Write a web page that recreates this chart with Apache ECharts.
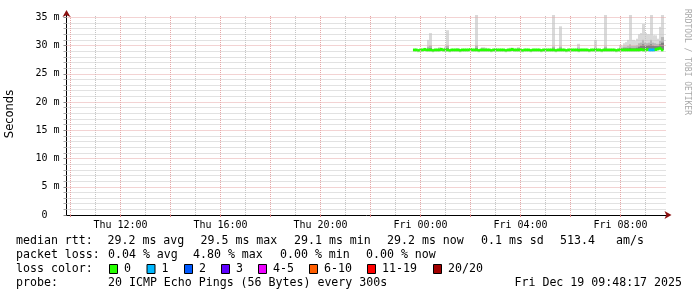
<!DOCTYPE html>
<html><head><meta charset="utf-8">
<script src="https://cdn.jsdelivr.net/npm/echarts@6/dist/echarts.min.js"></script>
<style>html,body{margin:0;padding:0;background:#fff}#c{width:697px;height:297px}</style>
</head><body><div id="c"></div>
<script>
// ---- time frame (hours counted from Thu 00:00) ----
const axisStartHour = 9.84;    // Thu ~09:50
const axisEndHour = 33.84;     // Fri ~09:50
const firstSampleHour = 23.75; // Thu 23:45
const stepMinutes = 5;

// ---- grid / tick values ----
const hourGrid = [11,13,15,17,19,21,23,25,27,29,31,33];
const twoHourGrid = [10,12,14,16,18,20,22,24,26,28,30,32];
const labelHours = [12,16,20,24,28,32];
const msMinorTicks = [1,2,3,4,6,7,8,9,11,12,13,14,16,17,18,19,21,22,23,24,26,27,28,29,31,32,33,34];
const msMajorTicks = [0,5,10,15,20,25,30,35];
const yMax = 35.4;

// ---- median rtt (ms) per 5-minute step ----
const median = [
29.2,29.2,29.1,29.2,29.2,29.3,29.2,29.2,29.2,29.1,
29.2,29.2,29.2,29.3,29.2,29.2,29.2,29.1,29.2,29.2,
29.2,29.2,29.1,29.2,29.2,29.2,29.2,29.3,29.2,29.2,
29.2,29.1,29.2,29.2,29.2,29.2,29.2,29.1,29.2,29.2,
29.2,29.2,29.2,29.2,29.1,29.2,29.2,29.3,29.2,29.2,
29.2,29.2,29.1,29.2,29.2,29.2,29.1,29.2,29.2,29.2,
29.2,29.1,29.2,29.2,29.2,29.2,29.2,29.2,29.1,29.2,
29.2,29.2,29.2,29.1,29.2,29.2,29.2,29.2,29.2,29.1,
29.2,29.2,29.2,29.2,29.1,29.2,29.2,29.2,29.2,29.2,
29.1,29.2,29.2,29.2,29.2,29.2,29.2,29.1,29.2,29.2,
29.2,29.2,29.2,29.2,29.2,29.2,29.2,29.2,29.2,29.3,
29.2,29.2,29.3,29.2,29.2,29.2,29.3,29.4,29.5,29.2
];

// ---- smoke (visible steps only): index, outer / middle / inner upper ping (ms) ----
const smokeIdx  = [7,8,12,13,15,16,21,30,33,34,39,46,47,50,67,70,79,87,92,99,100,101,102,103,104,105,106,107,108,109,110,111,112,113,114,115,116,117,118,119];
const smokeHi   = [31.0,32.2,29.7,29.6,29.8,32.7,29.5,35.4,29.7,29.6,29.5,29.6,29.6,29.7,35.4,33.4,30.3,31.0,35.4,30.1,29.9,30.4,30.6,31.0,35.4,31.0,30.8,31.2,32.0,32.2,33.8,32.2,32.0,32.0,35.4,31.8,31.8,31.2,33.3,35.4];
const smokeMid  = [29.8,30.0,29.5,29.4,29.5,30.0,29.4,30.0,29.5,29.4,29.4,29.4,29.4,29.5,29.8,29.8,29.6,29.6,29.8,29.6,29.6,29.8,29.8,29.9,30.2,29.9,29.9,30.0,30.4,30.5,31.0,30.5,30.4,30.5,31.0,30.5,30.4,30.3,30.8,31.5];
const smokeCore = [29.4,29.5,29.3,29.3,29.3,29.5,29.3,29.5,29.3,29.3,29.3,29.3,29.3,29.3,29.4,29.4,29.3,29.3,29.4,29.3,29.4,29.5,29.5,29.5,29.6,29.5,29.5,29.6,29.8,30.0,30.2,30.0,30.0,30.1,30.2,30.0,29.9,29.9,30.2,30.5];

// ---- packet loss (steps with loss) ----
const lossIdx = [113,114,115];
const lossCount = [1,1,1];

// ---- legend ----
const lossLegend = ['0','1','2','3','4-5','6-10','11-19','20/20'];
const lossColors = ['#26ff00','#00b8ff','#0059ff','#5e00ff','#ed00ff','#ff5e00','#ff0000','#a10000'];
const rttLegend = ['median rtt:','29.2 ms avg','29.5 ms max','29.1 ms min','29.2 ms now','0.1 ms sd','513.4','am/s'];
const lossStats = ['packet loss:','0.04 % avg','4.80 % max','0.00 % min','0.00 % now'];
const probeText = ['probe:','20 ICMP Echo Pings (56 Bytes) every 300s','Fri Dec 19 09:48:17 2025'];

function lossBucket(n){
  if(n<=3) return n; if(n<=5) return 4; if(n<=10) return 5; if(n<=19) return 6; return 7;
}
function stepHour(k){ return firstSampleHour + k*stepMinutes/60; }

const lossAt = {};
lossIdx.forEach((k,j)=>{ lossAt[k]=lossCount[j]; });

const smokeData = smokeIdx.map((k,j)=>[stepHour(k), median[k], smokeHi[j], smokeMid[j], smokeCore[j]]);
const medianData = median.map((v,k)=>[stepHour(k), v, lossBucket(lossAt[k]||0)]);

const mono = '"DejaVu Sans Mono", monospace';
const halfStep = stepMinutes/120;

function smokeItem(params, api){
  const t = api.value(0);
  const xl = Math.floor(api.coord([t-halfStep,0])[0]), xr = Math.ceil(api.coord([t+halfStep,0])[0]);
  const yb = api.coord([t, api.value(1)])[1];
  const mk = (v,c)=>{ const y = api.coord([t,v])[1];
    return {type:'rect', shape:{x:xl, y:y, width:xr-xl, height:Math.max(0,yb-y)}, style:{fill:c}}; };
  return {type:'group', children:[mk(api.value(2),'#d9d9d9'), mk(api.value(3),'#b6b6b6'), mk(api.value(4),'#808080')]};
}
function medianItem(params, api){
  const t = api.value(0);
  const xl = api.coord([t-halfStep,0])[0], xr = api.coord([t+halfStep,0])[0];
  const y = api.coord([t, api.value(1)])[1];
  return {type:'rect', shape:{x:xl-0.25, y:y-1.5, width:xr-xl+0.5, height:3}, style:{fill:lossColors[api.value(2)]}};
}

function hourLabel(v){
  const d = v < 24 ? 'Thu' : 'Fri';
  const h = Math.round(v) % 24;
  return d + ' ' + (h<10?'0':'') + h + ':00';
}

// grid lines through the axis scales
const minorStyle = {color:'#c4c4c4', width:1, type:[1,1]};
const majorStyle = {color:'#e6a6a6', width:1, type:[1,1]};
const gridLines = []
  .concat(hourGrid.map(h=>({xAxis:h, lineStyle:minorStyle})))
  .concat(msMinorTicks.map(v=>({yAxis:v, lineStyle:minorStyle})))
  .concat(twoHourGrid.map(h=>({xAxis:h, lineStyle:majorStyle})))
  .concat(msMajorTicks.filter(v=>v>0).map(v=>({yAxis:v, lineStyle:majorStyle})));

// legend graphics
const g = [];
const legY = [241,255,269,283];
const txt = (s,x,y,align)=>g.push({type:'text', x:x, y:y, silent:true,
  style:{text:s, font:'11.6px '+mono, fill:'#000', align:align||'left', verticalAlign:'middle'}});
const rttX = [16,107.5,200.5,294,387,481,560,616];
rttLegend.forEach((s,i)=>txt(s,rttX[i],legY[0]));
const lossX = [16,108,193,280,366];
lossStats.forEach((s,i)=>txt(s,lossX[i],legY[1]));
txt('loss color:',16,legY[2]);
const boxX = [109,146.5,184,221,258,309,367,433];
lossLegend.forEach((s,i)=>{
  g.push({type:'rect', silent:true, shape:{x:boxX[i]+0.5, y:legY[2]-4.5, width:8, height:9},
    style:{fill:lossColors[i], stroke:'#000', lineWidth:1}});
  txt(s, boxX[i]+15, legY[2]);
});
txt(probeText[0],16,legY[3]);
txt(probeText[1],108,legY[3]);
txt(probeText[2],682,legY[3],'right');
g.push({type:'text', x:10, y:114, rotation:Math.PI/2, silent:true,
  style:{text:'Seconds', font:'11.5px "DejaVu Sans", sans-serif', fill:'#000', align:'center', verticalAlign:'middle'}});
g.push({type:'text', x:687, y:62, rotation:-Math.PI/2, silent:true,
  style:{text:'RRDTOOL / TOBI OETIKER', font:'8px '+mono, fill:'#a8a8a8', align:'center', verticalAlign:'middle'}});

const chart = echarts.init(document.getElementById('c'), null, {renderer:'canvas'});
chart.setOption({
  animation:false,
  backgroundColor:'#ffffff',
  grid:{left:66.5, right:30.5, top:15, bottom:82, containLabel:false},
  xAxis:[
    {type:'value', min:axisStartHour, max:axisEndHour, position:'bottom',
     axisLine:{show:true, onZero:false, lineStyle:{color:'#000', width:1}},
     axisTick:{show:false},
     axisLabel:{show:false},
     splitLine:{show:false}},
    {type:'value', min:axisStartHour, max:axisEndHour, position:'bottom',
     axisLine:{show:true, onZero:false, symbol:['none','arrow'], symbolSize:[6,7], symbolOffset:[0,5], lineStyle:{color:'#8b1010', width:0}},
     axisTick:{show:true, length:2, customValues:twoHourGrid, lineStyle:{color:'#e08080'}},
     axisLabel:{show:true, customValues:labelHours, formatter:hourLabel, margin:5, fontFamily:mono, fontSize:10, color:'#000'},
     splitLine:{show:false}}
  ],
  yAxis:[
    {type:'value', min:0, max:yMax, position:'left',
     axisLine:{show:true, onZero:false, lineStyle:{color:'#000', width:1}},
     axisTick:{show:true, length:3, customValues:msMinorTicks, lineStyle:{color:'#aaaaaa'}},
     axisLabel:{show:false},
     splitLine:{show:false}},
    {type:'value', min:0, max:yMax, position:'left',
     axisLine:{show:true, onZero:false, symbol:['none','arrow'], symbolSize:[6,7], symbolOffset:[0,5], lineStyle:{color:'#8b1010', width:0}},
     axisTick:{show:true, length:3, customValues:msMajorTicks, lineStyle:{color:'#888888'}},
     axisLabel:{show:true, customValues:msMajorTicks, formatter:v=>v===0?'0  ':v+' m', margin:7, fontFamily:mono, fontSize:10, color:'#000'},
     splitLine:{show:false}}
  ],
  series:[
    {type:'line', name:'grid', xAxisIndex:0, yAxisIndex:0, data:[], z:1, silent:true,
     markLine:{silent:true, animation:false, symbol:['none','none'], label:{show:false}, emphasis:{disabled:true}, data:gridLines}},
    {type:'custom', name:'smoke', xAxisIndex:0, yAxisIndex:0, z:2, data:smokeData, renderItem:smokeItem, silent:true, encode:{x:0,y:[1,2]}},
    {type:'custom', name:'median', xAxisIndex:0, yAxisIndex:0, z:3, data:medianData, renderItem:medianItem, silent:true, encode:{x:0,y:1}}
  ],
  graphic:g
});
</script></body></html>
